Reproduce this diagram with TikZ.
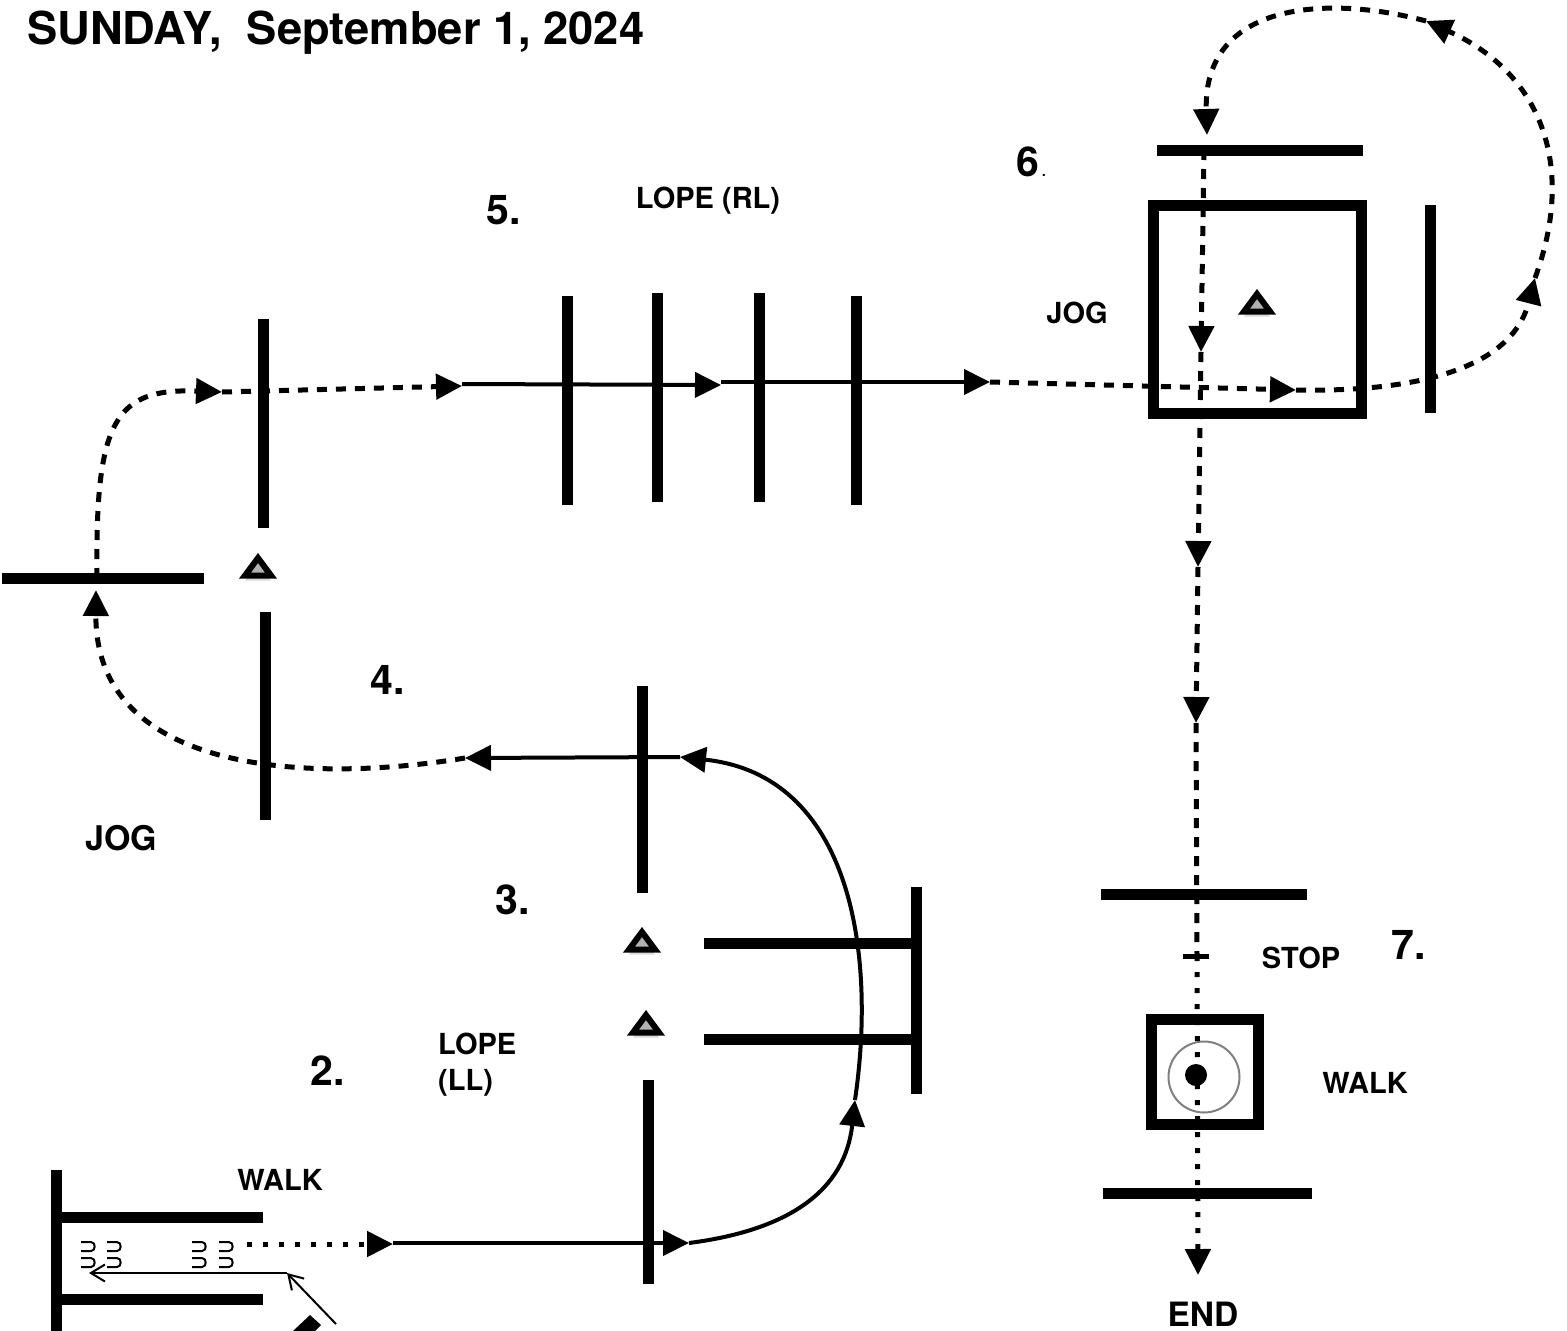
\documentclass[tikz,border=0pt]{standalone}
\usepackage{fontspec}
\setmainfont{TeX Gyre Heros}
\usepackage{tikz}
\usetikzlibrary{arrows.meta,shadows}

\tikzset{
  pole/.style={line width=11pt},
  flowsolid/.style={line width=4pt,-{Triangle[length=26pt,width=25pt]}},
  flowdash/.style={line width=5pt,dash pattern=on 10pt off 9pt,-{Triangle[length=26pt,width=25pt]}},
  flowdot/.style={line width=5pt,dash pattern=on 5pt off 11pt,-{Triangle[length=26pt,width=25pt]}},
  thinarrow/.style={line width=2pt,-{Straight Barb[length=14pt,width=17pt]}},
  bignum/.style={font=\bfseries\fontsize{41}{41}\selectfont,inner sep=0pt},
  gaitlabel/.style={font=\bfseries\fontsize{29}{36}\selectfont,inner sep=0pt},
  cone/.pic={
    \draw[line width=6pt,fill=black!30,miter limit=10,
      drop shadow={shadow xshift=0pt,shadow yshift=-5pt,opacity=.3}]
      (0,-9) -- (13,8.5) -- (-13,8.5) -- cycle;
  }
}

\begin{document}
\begin{tikzpicture}[x=1pt,y=-1pt]
\useasboundingbox (0,0) rectangle (1567,1331);

% Title
\node[anchor=west,inner sep=0pt,font=\bfseries\fontsize{45.3}{45.3}\selectfont] (title) at (27,33) {SUNDAY,\ \ September 1, 2024};

% Walk-in box
\draw[pole] (56,1170) -- (56,1331);
\draw[pole] (56,1217) -- (263,1217);
\draw[pole] (56,1299) -- (263,1299);
\foreach \hx in {81,107,192,219}
  \foreach \hy in {1242,1258}
    \draw[line width=2pt] (\hx,\hy) -- ++(10,0) to[out=0,in=0,looseness=1.4] ++(0,9) -- ++(-10,0);
\coordinate (horsetip) at (336,1324);
\coordinate (turn) at (287,1273);
\coordinate (stall) at (89,1273);
\draw[thinarrow] (horsetip) -- (turn);
\draw[thinarrow] (turn) -- (stall);
\fill (310,1315) -- (321,1325) -- (315,1331) -- (293,1331) -- cycle;

% Poles
\draw[pole] (648,1080) -- (648,1284);
\draw[pole] (916,887) -- (916,1094);
\draw[pole] (704,943) -- (916,943);
\draw[pole] (704,1039) -- (916,1039);
\draw[pole] (642,686) -- (642,893);
\draw[pole] (265,612) -- (265,820);
\draw[pole] (2,578) -- (204,578);
\draw[pole] (263,319) -- (263,528);
\draw[pole] (567,296) -- (567,505);
\draw[pole] (657,293) -- (657,502);
\draw[pole] (759,293) -- (759,502);
\draw[pole] (856,296) -- (856,505);
\draw[pole] (1157,150) -- (1363,150);
\draw[pole] (1430,205) -- (1430,413);
\draw[pole] (1101,894) -- (1307,894);
\draw[pole] (1103,1193) -- (1312,1193);
\draw[pole] (1153,205) rectangle (1361,413.5);
\draw[pole] (1151,1019.5) rectangle (1258,1124);
\draw[line width=5pt] (1183,956) -- (1209,956);

% Target at the stop
\draw[black!50,line width=2pt] (1204,1077) circle (35.5);
\fill (1196,1075) circle (11);

% Cones
\pic at (258,567) {cone};
\pic at (1257,303) {cone};
\pic at (642,941) {cone};
\pic at (646,1024) {cone};

% Route points
\coordinate (a) at (247,1244);
\coordinate (b) at (393,1244);
\coordinate (b2) at (393,1243);
\coordinate (c) at (689,1243);
\coordinate (d) at (855,1100);
\coordinate (e) at (680,757);
\coordinate (f) at (465,758);
\coordinate (g) at (96,590);
\coordinate (g2) at (97,578);
\coordinate (h) at (222,392);
\coordinate (i) at (462,386);
\coordinate (i2) at (462,384);
\coordinate (j) at (721,385);
\coordinate (j2) at (721,382);
\coordinate (k) at (990,382);
\coordinate (l) at (1296,390);
\coordinate (m) at (1535,278);
\coordinate (n) at (1426,21);
\coordinate (o) at (1207,135);
\coordinate (p) at (1201,352);
\coordinate (q) at (1198,567);
\coordinate (r) at (1196,723);
\coordinate (s) at (1197,956);
\coordinate (t) at (1198,1275);

% Route
\draw[flowdot] (a) -- (b);
\draw[flowsolid] (b2) -- (c);
\draw[flowsolid] (c) .. controls (790,1230) and (845,1190) .. (d);
\draw[flowsolid] (d) .. controls (877,950) and (850,775) .. (e);
\draw[flowsolid] (e) -- (f);
\draw[flowdash] (f) .. controls (300,785) and (95,770) .. (g);
\draw[flowdash] (g2) .. controls (95,420) and (115,388) .. (h);
\draw[flowdash] (h) -- (i);
\draw[flowsolid] (i2) -- (j);
\draw[flowsolid] (j2) -- (k);
\draw[flowdash] (k) -- (l);
\draw[flowdash] (l) .. controls (1400,392) and (1510,375) .. (m);
\draw[flowdash] (m) .. controls (1575,170) and (1545,75) .. (n);
\draw[flowdash] (n) .. controls (1325,-6) and (1203,3) .. (o);
\draw[flowdash] (1204,150) -- (p);
\draw[flowdash] (p) -- (q);
\draw[flowdash] (q) -- (r);
\draw[line width=5pt,dash pattern=on 10pt off 9pt] (r) -- (s);
\draw[flowdot] (s) -- (t);

% Labels
\node[bignum] (num2) at (328,1071) {2.};
\node[bignum] (num3) at (513,900) {3.};
\node[bignum] (num4) at (388,680) {4.};
\node[bignum] (num5) at (504,210) {5.};
\node[bignum,anchor=west] (num6) at (1016,162) {6\kern2pt{\mdseries\fontsize{20}{20}\selectfont.}};
\node[bignum] (num7) at (1409,945) {7.};
\node[gaitlabel] (walkone) at (280,1180) {WALK};
\node[gaitlabel,align=left,anchor=west] (lopell) at (438,1065) {LOPE\\(LL)};
\node[gaitlabel,font=\bfseries\fontsize{34}{36}\selectfont] (jogone) at (121,838) {JOG};
\node[gaitlabel] (loperl) at (708,201) {LOPE (RL)};
\node[gaitlabel] (jogtwo) at (1077,313) {JOG};
\node[gaitlabel] (stoplabel) at (1301,958) {STOP};
\node[gaitlabel] (walktwo) at (1365,1083) {WALK};
\node[gaitlabel,font=\bfseries\fontsize{33.5}{36}\selectfont] (endlabel) at (1203,1314) {END};
\end{tikzpicture}
\end{document}
